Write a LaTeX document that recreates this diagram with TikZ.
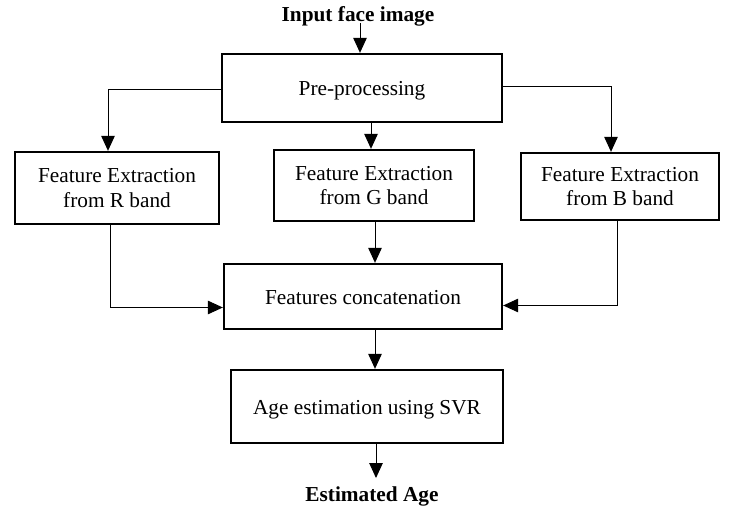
\documentclass[tikz,border=0pt]{standalone}
\usepackage{fontspec}
\setmainfont{Liberation Serif}
\usetikzlibrary{arrows.meta}
\begin{document}
\begin{tikzpicture}[x=1pt,y=-1pt,
  box/.style={draw, line width=2.3pt, align=center, inner sep=0pt,
    font=\fontsize{21.3}{24.5}\selectfont},
  onerow/.style={text height=20pt, text depth=4.6pt},
  lbl/.style={font=\fontsize{21.3}{24}\selectfont\bfseries, inner sep=0pt, anchor=base},
  arr/.style={line width=1pt, -{Triangle[length=15pt,width=13.5pt]}}]
\useasboundingbox (0,0) rectangle (737,508);

% input and output labels
\node[lbl] (title) at (358,22) {Input face image};
\node[lbl] (est) at (372,501) {Estimated Age};

% processing stages
\node[box, onerow, minimum width=280pt, minimum height=68pt] (pre) at (362,88) {Pre-processing};
\node[box, minimum width=204pt, minimum height=72pt] (R) at (117,188) {Feature Extraction\\from R band};
\node[box, minimum width=200pt, minimum height=71pt] (G) at (374,185.5) {Feature Extraction\\from G band};
\node[box, minimum width=198pt, minimum height=67pt] (B) at (620,186.5) {Feature Extraction\\from B band};
\node[box, onerow, minimum width=278pt, minimum height=65pt] (concat) at (363,296.5) {Features concatenation};
\node[box, onerow, minimum width=272pt, minimum height=73pt] (svr) at (367,406.5) {Age estimation using SVR};

% connectors
\draw[arr] ([xshift=2pt,yshift=-1pt]title.base) -- ([xshift=-2pt]pre.north);
\draw[arr] ([yshift=-2pt]pre.west) -| ([xshift=-9pt]R.north);
\draw[arr] ([xshift=9pt]pre.south) -- ([xshift=-3pt]G.north);
\draw[arr] ([yshift=1pt]pre.east) -| ([xshift=-9pt]B.north);
\draw[arr] ([xshift=1pt]G.south) -- ([xshift=12pt]concat.north);
\draw[arr] ([xshift=-7pt]R.south) |- ([yshift=-11pt]concat.west);
\draw[arr] ([xshift=-3pt]B.south) |- ([yshift=-9pt]concat.east);
\draw[arr] ([xshift=12pt]concat.south) -- ([xshift=8pt]svr.north);
\draw[arr, shorten >=8pt] ([xshift=9pt]svr.south) -- ([xshift=9pt]svr.south |- est.north);
\end{tikzpicture}
\end{document}
